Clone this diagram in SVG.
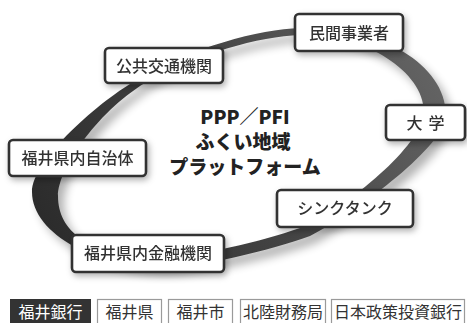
<svg xmlns="http://www.w3.org/2000/svg" width="467" height="323" viewBox="0 0 467 323">
<style>
.box{fill:#fff;stroke:#333;stroke-width:2.6}
.lbl{font-family:"Noto Sans CJK JP","Noto Sans",sans-serif;font-size:16px;font-weight:500;fill:#333;text-anchor:middle}
.title{font-family:"Noto Sans CJK JP","Noto Sans",sans-serif;font-size:19px;font-weight:900;fill:#222;text-anchor:middle}
.tag{fill:#fff;stroke:#9a9a9a;stroke-width:1.2}
.tagt{font-family:"Noto Sans CJK JP","Noto Sans",sans-serif;font-size:16px;fill:#333;text-anchor:middle}
</style>
<defs>
<linearGradient id="rg" x1="40" y1="250" x2="440" y2="40" gradientUnits="userSpaceOnUse">
<stop offset="0" stop-color="#2a2a2a"/>
<stop offset="0.5" stop-color="#444"/>
<stop offset="1" stop-color="#666"/>
</linearGradient>
<filter id="blur" x="-20%" y="-20%" width="140%" height="140%"><feGaussianBlur stdDeviation="5"/></filter>
<filter id="sh" x="-20%" y="-40%" width="140%" height="180%"><feDropShadow dx="2" dy="3" stdDeviation="3" flood-color="#000" flood-opacity="0.3"/></filter>
<path id="ring" fill-rule="evenodd" d="M32,192 C32,160 100,100 140,78 C190,48 260,29 300,28 C370,24 446,60 446,115 C446,145 360,210 310,236 C270,250 200,268 160,268 C100,268 32,235 32,192 Z M58,196 C58,168 100,108 150,80 C195,55 260,36 300,35 C360,32 424,70 424,112 C424,140 360,200 300,228 C260,242 200,256 165,256 C90,258 58,232 58,196 Z"/>
</defs>
<g id="connectors">
<use href="#ring" fill="#000" opacity="0.3" filter="url(#blur)" transform="translate(6,7)"/>
<use href="#ring" fill="url(#rg)"/>
</g>
<g id="node-kokyo" filter="url(#sh)"><rect class="box" x="105" y="48" width="118" height="35" rx="4"/><text class="lbl" x="164" y="71.5">公共交通機関</text></g>
<g id="node-minkan" filter="url(#sh)"><rect class="box" x="295" y="14" width="108" height="37" rx="4"/><text class="lbl" x="349" y="38.5">民間事業者</text></g>
<g id="node-daigaku" filter="url(#sh)"><rect class="box" x="386" y="105" width="79" height="35" rx="4"/><text class="lbl" x="428.5" y="128.5" letter-spacing="6">大学</text></g>
<g id="node-jichitai" filter="url(#sh)"><rect class="box" x="9" y="140" width="137" height="36" rx="4"/><text class="lbl" x="77.5" y="164">福井県内自治体</text></g>
<g id="node-think" filter="url(#sh)"><rect class="box" x="277" y="190" width="136" height="37" rx="4"/><text class="lbl" x="345" y="214">シンクタンク</text></g>
<g id="node-kinyu" filter="url(#sh)"><rect class="box" x="72" y="235" width="152" height="37" rx="4"/><text class="lbl" x="148" y="259">福井県内金融機関</text></g>
<g id="title"><text class="title" x="245" y="124">PPP／PFI</text><text class="title" x="243" y="149">ふくい地域</text><text class="title" x="245" y="174">プラットフォーム</text></g>
<g id="tag-fukuigin"><rect x="10" y="299" width="81" height="30" fill="#333"/><text class="tagt" x="50.5" y="318" style="fill:#fff">福井銀行</text></g>
<g id="tag-ken"><rect class="tag" x="97.5" y="299.5" width="64" height="30"/><text class="tagt" x="129.5" y="318">福井県</text></g>
<g id="tag-shi"><rect class="tag" x="168.5" y="299.5" width="64" height="30"/><text class="tagt" x="200.5" y="318">福井市</text></g>
<g id="tag-hokuriku"><rect class="tag" x="240.5" y="299.5" width="85" height="30"/><text class="tagt" x="283" y="318">北陸財務局</text></g>
<g id="tag-dbj"><rect class="tag" x="331.5" y="299.5" width="133" height="30"/><text class="tagt" x="398" y="318">日本政策投資銀行</text></g>
</svg>
